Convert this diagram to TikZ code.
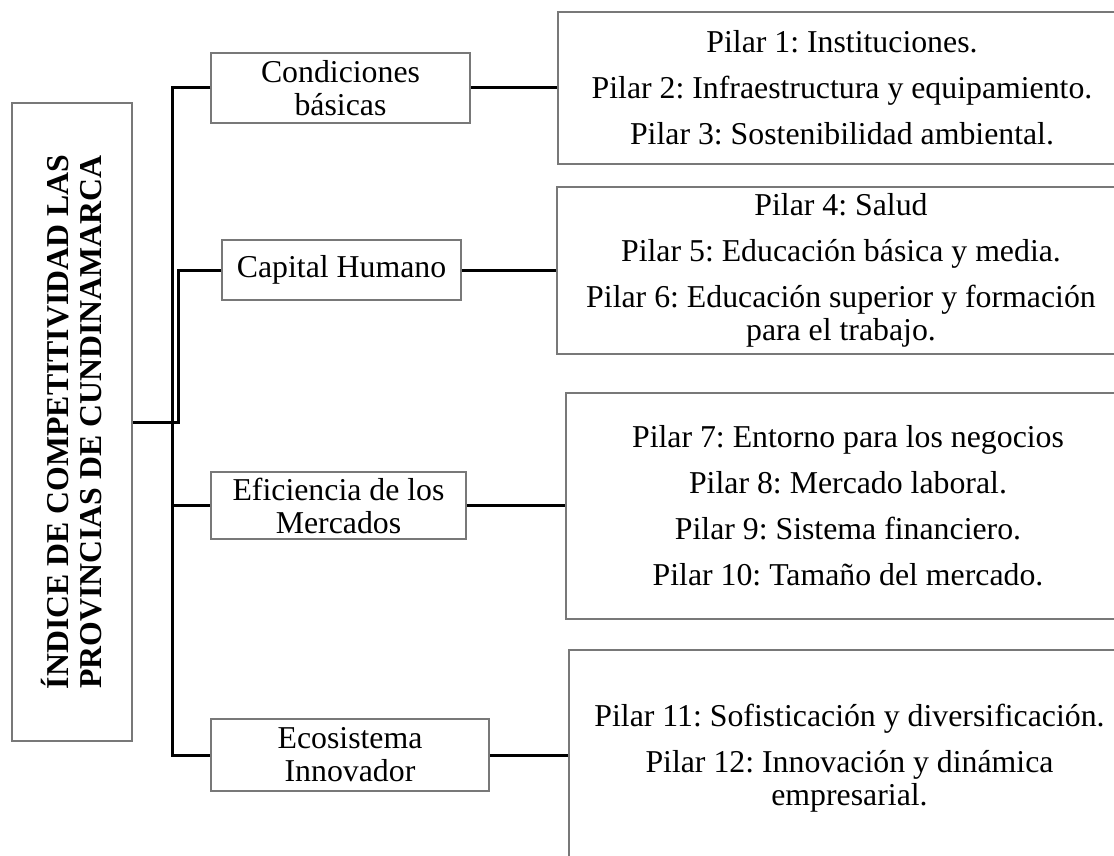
\documentclass[tikz,border=0pt]{standalone}
\usepackage{fontspec}
\setmainfont{Liberation Serif}
\usepackage{tikz}
\definecolor{borde}{RGB}{120,120,120}
\frenchspacing

\begin{document}
\begin{tikzpicture}[x=1pt,y=-1pt,
		marco/.style={draw=borde,line width=1.5pt,inner sep=0pt,align=center,font=\fontsize{31.8}{33}\selectfont},
		linea/.style={line width=3pt}]
		\useasboundingbox (0,0) rectangle (1114,856);
		\clip (0,0) rectangle (1114,856);
		\node[marco,minimum width=120,minimum height=638] (idx) at (72,422) {};
		\node[rotate=90,inner sep=0pt,align=center,font=\fontsize{31.8}{33}\selectfont\bfseries] (idxtxt) at (idx.center) {ÍNDICE DE COMPETITIVIDAD LAS\\PROVINCIAS DE CUNDINAMARCA};
		\node[marco,minimum width=259,minimum height=70] (cb) at (340.5,88) {Condiciones\\básicas};
		\node[marco,minimum width=239,minimum height=60] (ch) at (341.5,270) {Capital Humano};
		\node[marco,minimum width=255,minimum height=67] (em) at (338.5,505.5) {Eficiencia de los\\Mercados};
		\node[marco,minimum width=278,minimum height=72] (ei) at (350,755) {Ecosistema\\Innovador};
		\node[marco,minimum width=568,minimum height=152] (p1) at (842,88) {Pilar 1: Instituciones.\\[13pt]Pilar 2: Infraestructura y equipamiento.\\[13pt]Pilar 3: Sostenibilidad ambiental.};
		\node[marco,minimum width=568,minimum height=167] (p2) at (841,270.5) {Pilar 4: Salud\\[13pt]Pilar 5: Educación básica y media.\\[13pt]Pilar 6: Educación superior y formación\\para el trabajo.};
		\node[marco,minimum width=564,minimum height=226] (p3) at (848,506) {Pilar 7: Entorno para los negocios\\[13pt]Pilar 8: Mercado laboral.\\[13pt]Pilar 9: Sistema financiero.\\[13pt]Pilar 10: Tamaño del mercado.};
		\node[marco,minimum width=561,minimum height=216] (p4) at (849.5,758) {Pilar 11: Sofisticación y diversificación.\\[13pt]Pilar 12: Innovación y dinámica\\empresarial.};
		\coordinate (j1) at (172,422);
		\coordinate (j2) at (178,422);
		\draw[linea] (cb.west) -| (j1) |- (ei.west);
		\draw[linea] (j1) |- (em.west);
		\draw[linea] (idx.east) -- (j2) |- (ch.west);
		\draw[linea] (cb.east) -- (p1.west);
		\draw[linea] (ch.east) -- (ch.east -| p2.west);
		\draw[linea] (em.east) -- (em.east -| p3.west);
		\draw[linea] (ei.east) -- (ei.east -| p4.west);
	\end{tikzpicture}
\end{document}
